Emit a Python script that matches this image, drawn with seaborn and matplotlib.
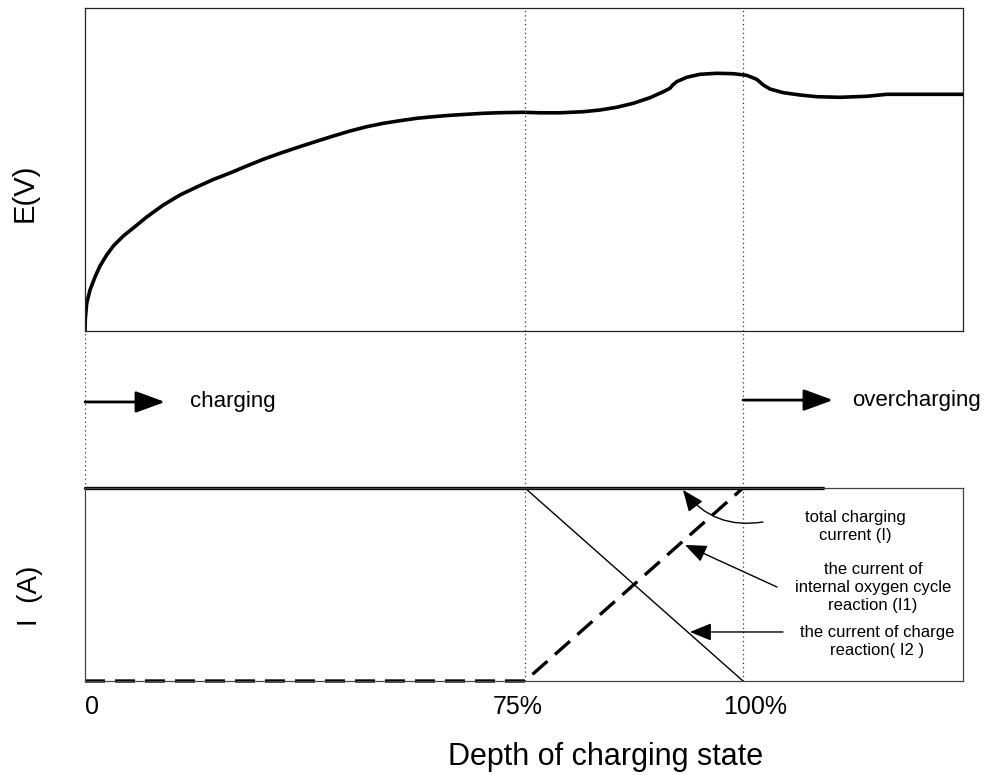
import matplotlib
matplotlib.use("Agg")
import matplotlib.pyplot as plt
import matplotlib.transforms as mtransforms
import seaborn as sns
import pandas as pd

sns.set_theme(style="white")
plt.rcParams['font.family'] = ['Liberation Sans', 'DejaVu Sans']
plt.rcParams['text.color'] = 'black'
plt.rcParams['xtick.color'] = 'black'
plt.rcParams['xtick.labelcolor'] = 'black'

# ---------------- data ----------------
# x positions along the charging-depth axis (arbitrary units, 0 = start)
depth_x = [0, 0.3, 1.7, 5, 10, 15, 21.7, 28.3, 38.3, 48.3, 61.7, 78.3, 95, 111.7,
           128.3, 145, 161.7, 178.3, 195, 211.7, 228.3, 248.3, 265, 281.7, 298.3,
           315, 331.7, 348.3, 365, 381.7, 398.3, 415, 438.3, 455, 475, 498.3, 515,
           531.7, 548.3, 565, 578.3, 585, 587.7, 591.7, 601.7, 615, 631.7, 648.3,
           661.7, 671.7, 678.3, 685, 698.3, 715, 731.7, 755, 781.7, 801.7, 878]
voltage = [0, 12, 27.7, 41, 54, 65, 76, 85, 95, 103, 114, 126, 136, 144,
           151.5, 158, 165, 171.7, 177.7, 183.3, 188.7, 195, 200, 204.3, 207.7,
           210.3, 212.7, 214.3, 215.7, 216.7, 217.7, 218.3, 218.7, 218.2, 218.2, 219.3,
           221, 223.7, 227.7, 233.3, 239.3, 242.7, 246, 249.3, 253.7, 256.7, 257.7,
           257.3, 255.7, 251.7, 246, 242, 238.3, 236, 234.3, 233.7, 234.7, 236.7, 236.7]

key_x = [0, 440, 658]               # 0, 75 %, 100 %
tick_labels = ["0", "75%", "100%"]
total_x = [0, 738]
total_i = [1, 1]
i1_x = [0, 440, 658]                # internal oxygen cycle current
i1_val = [0, 0, 1]
i2_x = [0, 440, 658]                # charge reaction current
i2_val = [1, 1, 0]

XMAX = 878

fig = plt.figure(figsize=(9.89, 7.75), dpi=100)
L, W = 85 / 989, 878 / 989
ax_top = fig.add_axes([L, 1 - 331 / 775, W, 323 / 775])
ax_mid = fig.add_axes([L, 1 - 488 / 775, W, 157 / 775])
ax_bot = fig.add_axes([L, 1 - 681 / 775, W, 193 / 775])

dot_ls = (0, (1, 2.5))

# ---------------- top panel: E(V) ----------------
df_v = pd.DataFrame({"x": depth_x, "E": voltage})
sns.lineplot(data=df_v, x="x", y="E", ax=ax_top, color="black", lw=2.6,
             sort=False, estimator=None, solid_joinstyle="round",
             solid_capstyle="round")
ax_top.set_xlim(0, XMAX)
ax_top.set_ylim(0, 323)
ax_top.set_xticks([])
ax_top.set_yticks([])
ax_top.set_xlabel("")
ax_top.set_ylabel("")
for s in ax_top.spines.values():
    s.set_color("#222222")
    s.set_linewidth(0.9)
for xv in key_x[1:]:
    ax_top.axvline(xv, color="#333333", ls=dot_ls, lw=0.9)

# ---------------- middle: arrows ----------------
ax_mid.set_xlim(0, XMAX)
ax_mid.set_ylim(0, 1)
ax_mid.axis("off")
for xv in key_x:
    ax_mid.axvline(xv, color="#333333", ls=dot_ls, lw=0.9)
arrow_kw = dict(arrowstyle="-|>,head_length=1.5,head_width=0.55", color="black",
                lw=2.0, shrinkA=0, shrinkB=0)
ax_mid.annotate("", xy=(80, 0.548), xytext=(0, 0.548), arrowprops=arrow_kw)
ax_mid.text(105, 0.548, "charging", fontsize=16, va="center", ha="left")
ax_mid.annotate("", xy=(748, 0.56), xytext=(658, 0.56), arrowprops=arrow_kw)
ax_mid.text(767, 0.56, "overcharging", fontsize=16, va="center", ha="left")

# ---------------- bottom panel: I(A) ----------------
df_tot = pd.DataFrame({"x": total_x, "I": total_i})
df_i1 = pd.DataFrame({"x": i1_x, "I": i1_val})
df_i2 = pd.DataFrame({"x": i2_x, "I": i2_val})
sns.lineplot(data=df_i2, x="x", y="I", ax=ax_bot, color="black", lw=1.0,
             sort=False, estimator=None)
sns.lineplot(data=df_i1, x="x", y="I", ax=ax_bot, color="black", lw=2.4,
             sort=False, estimator=None).lines[-1].set_dashes((6, 3))
sns.lineplot(data=df_tot, x="x", y="I", ax=ax_bot, color="black", lw=2.4,
             sort=False, estimator=None)
for ln in ax_bot.lines:
    ln.set_clip_on(False)
ax_bot.set_xlim(0, XMAX)
ax_bot.set_ylim(0, 1)
ax_bot.set_yticks([])
ax_bot.set_xticks(key_x)
ax_bot.set_xticklabels(tick_labels, fontsize=18, color="black")
ax_bot.tick_params(axis="x", length=0, pad=10)
tls = ax_bot.get_xticklabels()
tls[0].set_ha("left")
for lab, dx in zip(tls, [0, -7, 12]):
    lab.set_transform(lab.get_transform() +
                      mtransforms.ScaledTranslation(dx / 100, 0, fig.dpi_scale_trans))
ax_bot.set_xlabel("")
ax_bot.set_ylabel("")
for s in ax_bot.spines.values():
    s.set_color("#444444")
    s.set_linewidth(0.9)
for xv in key_x[1:]:
    ax_bot.axvline(xv, color="#333333", ls=dot_ls, lw=0.9)

small_arrow = dict(arrowstyle="-|>,head_length=1.1,head_width=0.45", color="black",
                   lw=1.0, shrinkA=0, shrinkB=0)
ax_bot.annotate("", xy=(598, 0.99), xytext=(678, 0.824),
                arrowprops=dict(small_arrow, connectionstyle="arc3,rad=-0.3"))
ax_bot.annotate("", xy=(600, 0.705), xytext=(692, 0.487), arrowprops=small_arrow)
ax_bot.annotate("", xy=(605, 0.254), xytext=(698, 0.254), arrowprops=small_arrow)

ax_bot.text(770, 0.80, "total charging\ncurrent (I)", fontsize=12, ha="center",
            va="center", linespacing=1.25)
ax_bot.text(788, 0.487, "the current of\ninternal oxygen cycle\nreaction (I1)",
            fontsize=12, ha="center", va="center", linespacing=1.25)
ax_bot.text(792, 0.207, "the current of charge\nreaction( I2 )", fontsize=12,
            ha="center", va="center", linespacing=1.25)

# ---------------- axis titles ----------------
fig.text(25 / 989, 1 - 193 / 775, "E(V)", rotation=90, fontsize=21,
         ha="center", va="center")
fig.text(30 / 989, 1 - 596 / 775, "I  (A)", rotation=90, fontsize=20,
         ha="center", va="center")
fig.text(763 / 989, 1 - 757 / 775, "Depth of charging state", fontsize=22,
         ha="right", va="center")

fig.savefig("out.png", dpi=100)
